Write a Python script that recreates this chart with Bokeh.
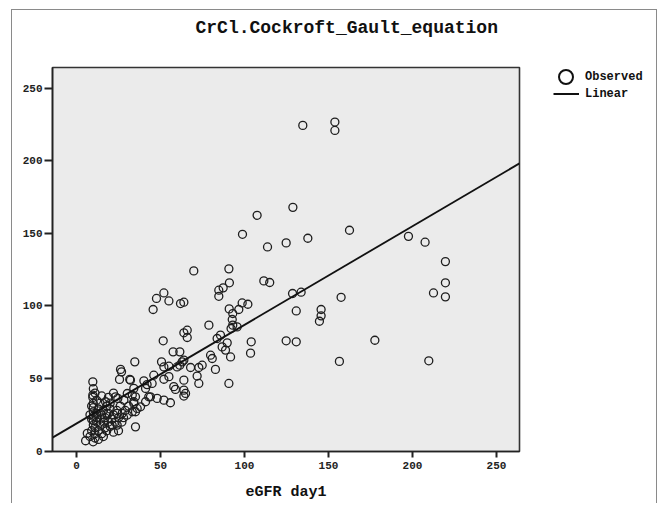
from bokeh.plotting import figure
from bokeh.layouts import row
from bokeh.models import ColumnDataSource, Range1d, FixedTicker, Legend, LegendItem, Title
from bokeh.embed import file_html
from bokeh.resources import INLINE

title_text = "CrCl.Cockroft_Gault_equation"
x_label = "eGFR day1"
legend_labels = ["Observed", "Linear"]
x_ticks = [0, 50, 100, 150, 200, 250]
y_ticks = [0, 50, 100, 150, 200, 250]

# eGFR day1 (x) and CrCl Cockroft-Gault (y)
egfr = [
    134.7, 153.8, 153.8, 128.8, 107.5, 162.5, 137.7, 124.8, 113.7, 197.6, 207.5, 219.6, 219.6, 212.5, 219.6,
    111.5, 115.0, 128.6, 133.7, 130.8, 157.5, 145.6, 145.6, 144.6, 104.0, 103.6, 124.8, 130.8, 177.6, 156.5, 209.7,
    98.8, 69.8, 90.7, 91.0, 84.7, 87.3, 84.7, 52.0, 47.6, 55.0, 45.6, 61.9, 63.9, 90.9, 96.6, 98.6, 102.0,
    93.0, 92.7, 93.0, 95.6, 92.0, 78.8, 63.9, 65.9, 65.9, 85.7, 83.7, 86.7, 89.7, 88.7, 91.7, 51.6, 57.5, 61.5,
    79.8, 80.8, 82.7, 90.7,
    50.6, 52.0, 55.0, 59.9, 61.5, 62.9, 63.9, 67.9, 72.8, 74.8, 71.8, 72.8, 46.0, 45.0, 52.0, 55.0, 57.9, 63.9,
    63.9, 64.9, 63.9, 58.9, 48.0, 52.0, 55.9, 44.0,
    34.7, 26.2, 26.8, 25.6, 31.7, 9.7, 9.7, 9.7, 17.3, 23.2, 24.6, 30.2, 33.2, 28.2, 34.1, 36.1, 33.2, 30.2,
    27.2, 24.2, 35.1, 21.2, 24.2, 6.4, 5.4, 9.9,
    32.1, 40.1, 41.1, 34.1, 35.1, 43.0, 34.1, 41.1, 38.1, 35.1, 42.0,
    8, 9, 10, 10, 10, 10, 10, 11, 11, 12, 12, 12, 13, 13, 14, 14, 15, 15, 16, 16, 17, 17, 18, 18, 19, 19,
    20, 20, 21, 22, 22, 23, 24, 25, 26, 14, 12, 16, 20, 18, 8, 9, 11, 13, 27, 29, 31, 28, 25, 19, 22, 15,
    10, 10, 11, 9,
]
crcl = [
    224.5, 226.8, 221.0, 168.0, 162.5, 152.2, 146.7, 143.5, 140.7, 148.0, 144.0, 130.6, 116.0, 109.0, 106.3,
    117.3, 116.2, 108.6, 109.5, 96.6, 106.0, 97.6, 93.2, 89.5, 75.3, 67.5, 76.0, 75.3, 76.4, 61.8, 62.2,
    149.4, 124.2, 125.6, 116.0, 110.9, 112.5, 106.7, 109.0, 105.2, 103.5, 97.6, 101.7, 102.6, 98.0, 97.6, 102.1, 101.2,
    94.8, 90.7, 86.8, 85.6, 84.5, 86.8, 81.5, 83.3, 78.3, 79.9, 77.6, 71.8, 74.6, 69.6, 64.9, 76.0, 68.4, 68.4,
    66.1, 63.8, 56.3, 46.6,
    61.5, 58.0, 58.5, 58.0, 59.2, 61.5, 62.7, 57.6, 57.6, 59.2, 51.7, 46.6, 52.3, 46.6, 49.5, 51.3, 44.4, 48.9,
    42.0, 39.7, 37.9, 42.5, 36.3, 35.1, 33.3, 37.4,
    61.5, 56.3, 54.6, 49.4, 49.4, 47.7, 38.6, 37.0, 34.0, 37.4, 36.3, 39.7, 38.6, 35.1, 34.0, 29.4, 27.1, 24.8,
    26.0, 26.0, 16.7, 17.9, 17.9, 12.2, 7.1, 6.4,
    48.9, 48.4, 43.2, 43.2, 37.4, 37.4, 32.8, 34.0, 30.5, 27.1, 45.8,
    10, 14, 18, 21, 24, 27, 30, 12, 16, 20, 23, 26, 14, 29, 18, 22, 25, 12, 20, 28, 16, 23, 14, 31, 20, 26,
    17, 29, 22, 25, 13, 20, 28, 23, 31, 33, 35, 10, 33, 26, 25, 31, 9, 8, 20, 28, 31, 23, 14, 37, 40, 38,
    33, 43, 40, 22,
]

# Linear fit
fit_intercept = 19.0
fit_slope = 0.68
x_min, x_max = -14.3, 263.7
y_min, y_max = -0.3, 264.4

src = ColumnDataSource(data=dict(x=egfr, y=crcl))
line_x = [x_min, x_max]
line_y = [fit_intercept + fit_slope * v for v in line_x]

FONT = "Liberation Mono"
INK = "#111111"

# ---------------- main plot ----------------
p = figure(width=540, height=503, output_backend="svg", toolbar_location=None,
           x_range=Range1d(x_min, x_max), y_range=Range1d(y_min, y_max),
           min_border_left=52, min_border_right=21, min_border_top=67, min_border_bottom=51,
           background_fill_color="#ebebeb", border_fill_color=None)

p.outline_line_color = "#333333"
p.outline_line_width = 1.6
p.xgrid.visible = False
p.ygrid.visible = False

p.title.text = title_text
p.title.align = "left"
p.title.offset = 143
p.title.standoff = 0
p.title.text_font = FONT
p.title.text_font_style = "bold"
p.title.text_font_size = "18px"
p.title.text_color = INK

# an empty spacer title between the real title and the frame
p.add_layout(Title(text=" ", text_font_size="10px", standoff=17), "above")

for ax, tk in ((p.xaxis[0], x_ticks), (p.yaxis[0], y_ticks)):
    ax.ticker = FixedTicker(ticks=tk)
    ax.minor_tick_line_color = None
    ax.major_tick_in = 0
    ax.major_tick_line_width = 2
    ax.major_tick_line_color = "#222222"
    ax.axis_line_color = "#222222"
    ax.axis_line_width = 1.6
    ax.major_label_text_font = FONT
    ax.major_label_text_font_style = "bold"
    ax.major_label_text_font_size = "11px"
    ax.major_label_text_color = "#222222"

p.xaxis.major_tick_out = 6
p.xaxis.major_label_standoff = 4
p.xaxis.axis_label = x_label
p.xaxis.axis_label_standoff = 12
p.xaxis.axis_label_text_font = FONT
p.xaxis.axis_label_text_font_style = "bold"
p.xaxis.axis_label_text_font_size = "15px"
p.xaxis.axis_label_text_color = INK

p.yaxis.major_tick_out = 8
p.yaxis.major_label_standoff = 2

p.scatter(x="x", y="y", source=src, marker="circle", size=8,
          fill_color=None, line_color="#1e1e1e", line_width=1.3)
p.line(x=line_x, y=line_y, line_color=INK, line_width=1.8)

# ---------------- legend panel ----------------
lp = figure(width=118, height=503, output_backend="svg", toolbar_location=None,
            x_axis_type=None, y_axis_type=None, x_range=Range1d(0, 1), y_range=Range1d(0, 1),
            min_border=0, outline_line_color=None, background_fill_color=None,
            border_fill_color=None)
lp.grid.visible = False

lr_obs = lp.scatter(x=egfr[:1], y=crcl[:1], marker="circle", size=14, fill_color=None,
                    line_color=INK, line_width=2, visible=False)
lr_fit = lp.line(x=line_x, y=line_y, line_color=INK, line_width=2, visible=False)

common = dict(orientation="vertical", margin=0, padding=0, spacing=0,
              label_text_font=FONT, label_text_font_style="bold",
              label_text_font_size="12px", label_text_color=INK,
              background_fill_alpha=0, border_line_alpha=0, inactive_fill_alpha=0)

leg1 = Legend(items=[LegendItem(label=legend_labels[0], renderers=[lr_obs])],
              location=(8, 357), glyph_width=35, glyph_height=35, label_height=35,
              label_standoff=2, **common)
leg2 = Legend(items=[LegendItem(label=legend_labels[1], renderers=[lr_fit])],
              location=(13, 349), glyph_width=26, glyph_height=17, label_height=17,
              label_standoff=6, **common)
lp.add_layout(leg1)
lp.add_layout(leg2)

border_css = ("linear-gradient(#8a8a8a,#8a8a8a) 11px 9px/1px 500px no-repeat, "
              "linear-gradient(#8a8a8a,#8a8a8a) 11px 9px/646px 1px no-repeat, "
              "linear-gradient(#8a8a8a,#8a8a8a) 656px 9px/1px 500px no-repeat, white")

layout = row(p, lp, spacing=0, styles={"background": border_css})

open("out.html", "w").write(file_html(layout, INLINE))
